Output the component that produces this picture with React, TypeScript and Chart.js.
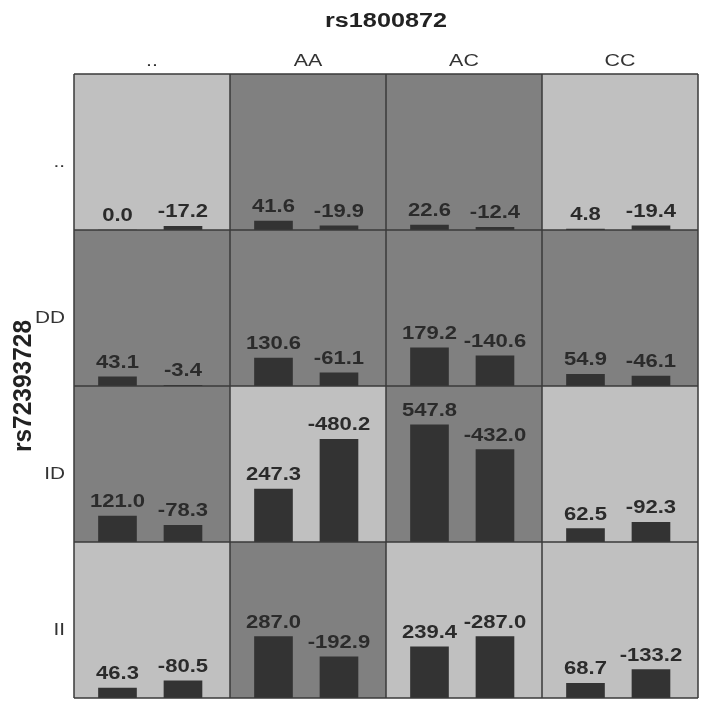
import React, { useEffect, useRef } from 'react';
import { Chart, registerables } from 'chart.js';

Chart.register(...registerables);

// ---- data ----
const colLabels = ['..', 'AA', 'AC', 'CC'];
const rowLabels = ['..', 'DD', 'ID', 'II'];
const xTitle = 'rs1800872';
const yTitle = 'rs72393728';

// first (left) bar value of each cell, rows top→bottom, columns left→right
const firstRowDots = [0.0, 41.6, 22.6, 4.8];
const firstRowDD = [43.1, 130.6, 179.2, 54.9];
const firstRowID = [121.0, 247.3, 547.8, 62.5];
const firstRowII = [46.3, 287.0, 239.4, 68.7];
// second (right) bar value of each cell
const secondRowDots = [-17.2, -19.9, -12.4, -19.4];
const secondRowDD = [-3.4, -61.1, -140.6, -46.1];
const secondRowID = [-78.3, -480.2, -432.0, -92.3];
const secondRowII = [-80.5, -192.9, -287.0, -133.2];

const firstValues = [firstRowDots, firstRowDD, firstRowID, firstRowII];
const secondValues = [secondRowDots, secondRowDD, secondRowID, secondRowII];

// cell shading: 1 = light, 0 = dark
const shadeDots = [1, 0, 0, 1];
const shadeDD = [0, 0, 0, 0];
const shadeID = [0, 1, 0, 1];
const shadeII = [1, 0, 1, 1];
const cellShade = [shadeDots, shadeDD, shadeID, shadeII];

// ---- styling ----
const FONT = '"Liberation Sans", Arial, Helvetica, sans-serif';
const SX = 1.26; // horizontal stretch of the original text
const LIGHT = '#c0c0c0';
const DARK = '#808080';
const BAR = '#333333';
const LINE = '#3a3a3a';
const TEXT = '#2b2b2b';

function drawText(
  ctx: CanvasRenderingContext2D,
  text: string,
  x: number,
  y: number,
  align: CanvasTextAlign,
  font: string,
  color: string,
  rotate = false,
  sx = SX
) {
  ctx.save();
  ctx.translate(x, y);
  ctx.scale(sx, 1);
  if (rotate) ctx.rotate(-Math.PI / 2);
  ctx.font = font;
  ctx.fillStyle = color;
  ctx.textAlign = align;
  ctx.textBaseline = 'alphabetic';
  ctx.fillText(text, 0, 0);
  ctx.restore();
}

const gridPlugin = {
  id: 'gridPlugin',
  beforeDatasetsDraw(chart: any) {
    const ctx: CanvasRenderingContext2D = chart.ctx;
    ctx.save();
    rowLabels.forEach((_, r) => {
      colLabels.forEach((__, c) => {
        const xs = chart.scales['x' + c];
        const ys = chart.scales['y' + r];
        ctx.fillStyle = cellShade[r][c] ? LIGHT : DARK;
        ctx.fillRect(xs.left, ys.top, xs.right - xs.left, ys.bottom - ys.top);
      });
    });
    ctx.restore();
  },
  afterDatasetsDraw(chart: any) {
    const ctx: CanvasRenderingContext2D = chart.ctx;
    const area = chart.chartArea;
    ctx.save();
    ctx.strokeStyle = LINE;
    ctx.lineWidth = 1.5;
    ctx.beginPath();
    colLabels.forEach((_, c) => {
      const xs = chart.scales['x' + c];
      ctx.moveTo(xs.left, area.top);
      ctx.lineTo(xs.left, area.bottom);
      if (c === colLabels.length - 1) {
        ctx.moveTo(xs.right, area.top);
        ctx.lineTo(xs.right, area.bottom);
      }
    });
    rowLabels.forEach((_, r) => {
      const ys = chart.scales['y' + r];
      ctx.moveTo(area.left, ys.top);
      ctx.lineTo(area.right, ys.top);
      if (r === rowLabels.length - 1) {
        ctx.moveTo(area.left, ys.bottom);
        ctx.lineTo(area.right, ys.bottom);
      }
    });
    ctx.stroke();
    ctx.restore();

    // value labels
    chart.data.datasets.forEach((ds: any, i: number) => {
      const meta = chart.getDatasetMeta(i);
      meta.data.forEach((bar: any, j: number) => {
        const v = ds.data[j].v as number;
        drawText(ctx, v.toFixed(1), bar.x, bar.y - 9, 'center', 'bold 17.5px ' + FONT, TEXT);
      });
    });

    // column labels
    colLabels.forEach((lab, c) => {
      const xs = chart.scales['x' + c];
      drawText(ctx, lab, (xs.left + xs.right) / 2, area.top - 8, 'center', '17px ' + FONT, '#333');
    });
    // row labels
    rowLabels.forEach((lab, r) => {
      const ys = chart.scales['y' + r];
      drawText(ctx, lab, area.left - 9, (ys.top + ys.bottom) / 2 + 15, 'right', '16.5px ' + FONT, '#333');
    });
    // titles
    drawText(ctx, xTitle, (area.left + area.right) / 2, 27, 'center', 'bold 20px ' + FONT, '#222');
    drawText(ctx, yTitle, 31, (area.top + area.bottom) / 2, 'center', 'bold 24.5px ' + FONT, '#222', true, 1.06);
  },
};

export default function App() {
  const ref = useRef<HTMLCanvasElement>(null);

  useEffect(() => {
    const scales: any = {};
    colLabels.forEach((_, c) => {
      scales['x' + c] = {
        type: 'linear',
        position: 'top',
        stack: 'cols',
        stackWeight: 1,
        weight: colLabels.length - c,
        min: -0.664,
        max: 1.718,
        offset: false,
        display: false,
      };
    });
    rowLabels.forEach((_, r) => {
      scales['y' + r] = {
        type: 'linear',
        position: 'left',
        stack: 'rows',
        stackWeight: 1,
        weight: rowLabels.length - r,
        min: 0,
        max: 730,
        offset: false,
        display: false,
      };
    });

    const datasets: any[] = [];
    rowLabels.forEach((_, r) => {
      colLabels.forEach((__, c) => {
        const a = firstValues[r][c];
        const b = secondValues[r][c];
        datasets.push({
          type: 'bar',
          label: rowLabels[r] + '/' + colLabels[c],
          xAxisID: 'x' + c,
          yAxisID: 'y' + r,
          data: [
            { x: 0, y: Math.abs(a), v: a },
            { x: 1, y: Math.abs(b), v: b },
          ],
          backgroundColor: BAR,
          borderWidth: 0,
          barThickness: 38,
          grouped: false,
        });
      });
    });

    const chart = new Chart(ref.current as HTMLCanvasElement, {
      type: 'bar',
      data: { datasets },
      options: {
        responsive: false,
        animation: false,
        layout: { padding: { left: 74, top: 74, right: 10, bottom: 10 } },
        scales,
        plugins: {
          legend: { display: false },
          tooltip: { enabled: false },
          title: { display: false },
        },
      },
      plugins: [gridPlugin],
    } as any);
    return () => chart.destroy();
  }, []);

  return (
    <div style={{ position: 'absolute', left: 0, top: 0, width: 708, height: 708, background: '#fff' }}>
      <canvas ref={ref} width={708} height={708} style={{ display: 'block' }} />
    </div>
  );
}
